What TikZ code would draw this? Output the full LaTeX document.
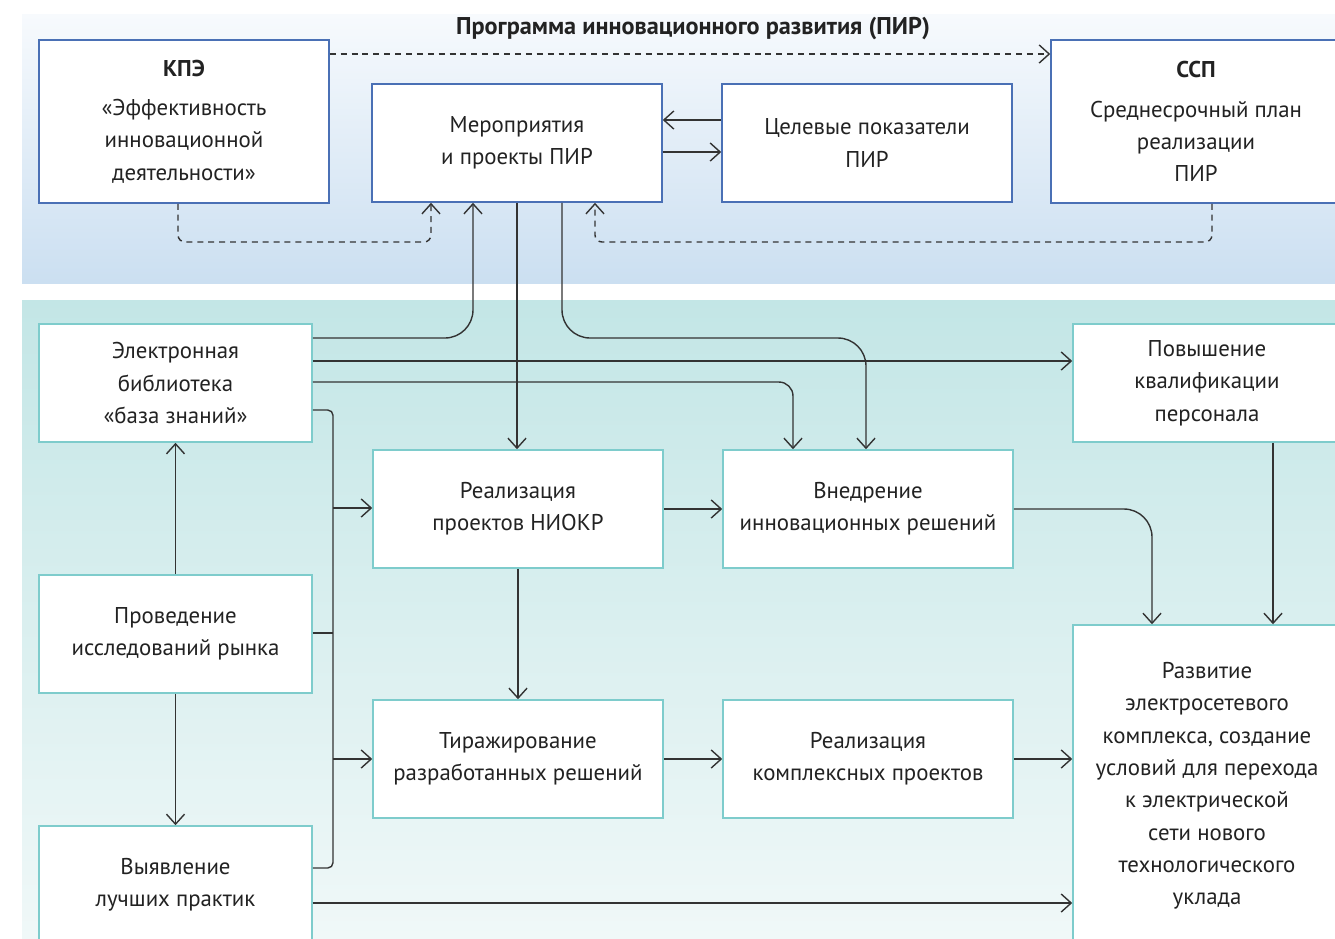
\documentclass[tikz,border=0pt]{standalone}
\usepackage{fontspec}
\setmainfont{PT Sans}
\usetikzlibrary{arrows.meta}

\definecolor{pirblue}{HTML}{4A70B5}
\definecolor{pirteal}{HTML}{7ECCCC}
\definecolor{bandtop}{HTML}{F7FAFD}
\definecolor{bandbot}{HTML}{CBDFF1}
\definecolor{tealtop}{HTML}{C3E6E6}
\definecolor{tealbot}{HTML}{F0F8F8}
\definecolor{ink}{HTML}{222222}
\definecolor{wire}{HTML}{333333}

\begin{document}
\begin{tikzpicture}[x=0.02cm, y=-0.02cm, >={Straight Barb[length=2mm,width=3.6mm]},
    font=\fontsize{13}{18.4}\selectfont, text=ink,
    topbox/.style={draw=pirblue, line width=0.9pt, fill=white, align=center,
        minimum width=5.8cm, minimum height=2.36cm, inner sep=0pt},
    lowbox/.style={draw=pirteal, line width=0.9pt, fill=white, align=center,
        minimum width=5.8cm, minimum height=2.36cm, inner sep=0pt},
    link/.style={draw=wire, line width=0.8pt},
    dlink/.style={link, dash pattern=on 3.4pt off 2.8pt}]
    \clip (0,0) rectangle (1335,938);
    \fill[white] (0,0) rectangle (1335,938);

    % the two bands
    \shade[top color=bandtop, bottom color=bandbot] (22,14) rectangle (1335,283);
    \shade[top color=tealtop, bottom color=tealbot] (22,300) rectangle (1335,938);

    \node[font=\fontsize{13.8}{18}\selectfont\bfseries] (title) at (693,29)
        {Программа инновационного развития (ПИР)};

    % upper part
    \node[topbox, minimum height=3.26cm] (kpe) at (184,121.5)
        {\textbf{КПЭ}\\[4pt] «Эффективность\\ инновационной\\ деятельности»};
    \node[topbox] (mer) at (517,143) {Мероприятия\\ и проекты ПИР};
    \node[topbox] (tsel) at (867,143) {Целевые показатели\\ ПИР};
    \node[topbox, minimum height=3.26cm] (ssp) at (1196,121.5)
        {\textbf{ССП}\\[4pt] Среднесрочный план\\ реализации\\ ПИР};

    % lower part
    \node[lowbox, minimum width=5.46cm] (elib) at (175.5,383)
        {Электронная\\ библиотека\\ «база знаний»};
    \node[lowbox] (niokr) at (518,509) {Реализация\\ проектов НИОКР};
    \node[lowbox] (vnedr) at (868,509) {Внедрение\\ инновационных решений};
    \node[lowbox, minimum width=5.36cm] (povysh) at (1207,383)
        {Повышение\\ квалификации\\ персонала};
    \node[lowbox, minimum width=5.46cm] (rynok) at (175.5,634)
        {Проведение\\ исследований рынка};
    \node[lowbox] (tirazh) at (518,759) {Тиражирование\\ разработанных решений};
    \node[lowbox] (kompl) at (868,759) {Реализация\\ комплексных проектов};
    \node[lowbox, minimum width=5.36cm, minimum height=6.44cm] (razv) at (1207,786)
        {Развитие\\ электросетевого\\ комплекса, создание\\ условий для перехода\\
         к электрической\\ сети нового\\ технологического\\ уклада};
    \node[lowbox, minimum width=5.46cm] (luch) at (175.5,885)
        {Выявление\\ лучших практик};

    % dashed links in the upper band
    \draw[dlink, ->] (kpe.east |- 0,54) -- (ssp.west |- 0,54);
    \draw[dlink, ->, rounded corners=4pt] (kpe.south -| 178,0) -- (178,242)
        -- (431,242) -- (mer.south -| 431,0);
    \draw[dlink, ->, rounded corners=4pt] (ssp.south -| 1212,0) -- (1212,242)
        -- (595,242) -- (mer.south -| 595,0);

    \draw[link, ->] (tsel.west |- 0,120) -- (mer.east |- 0,120);
    \draw[link, ->] (mer.east |- 0,152) -- (tsel.west |- 0,152);

    % links between the bands
    \draw[link, ->, rounded corners=16pt] (elib.east |- 0,338) -- (473,338)
        -- (mer.south -| 473,0);
    \draw[link, ->] (mer.south) -- (mer.south |- niokr.north);
    \draw[link, ->, rounded corners=16pt] (mer.south -| 562,0) -- (562,338)
        -- (866,338) -- (vnedr.north -| 866,0);
    \draw[link, ->] (elib.east |- 0,361) -- (povysh.west |- 0,361);
    \draw[link, ->, rounded corners=8pt] (elib.east |- 0,382) -- (793,382)
        -- (vnedr.north -| 793,0);

    % bus on the left
    \coordinate (busa) at (333,508);
    \coordinate (busb) at (333,759);
    \draw[link, rounded corners=3pt] (elib.east |- 0,410) -- (333,410) -- (333,868)
        -- (luch.east |- 0,868);
    \draw[link] (rynok.east |- 0,633) -- (333,633);
    \draw[link, ->] (busa) -- (niokr.west |- busa);
    \draw[link, ->] (busb) -- (tirazh.west |- busb);

    \draw[link, ->] (rynok.north) -- (elib.south);
    \draw[link, ->] (rynok.south) -- (luch.north);

    \draw[link, ->] (niokr.east) -- (vnedr.west);
    \draw[link, ->] (niokr.south) -- (tirazh.north);
    \draw[link, ->] (tirazh.east) -- (kompl.west);
    \draw[link, ->] (kompl.east) -- (razv.west |- kompl.east);
    \draw[link, ->, rounded corners=16pt] (vnedr.east) -- (1152,509)
        -- (razv.north -| 1152,0);
    \draw[link, ->] (povysh.south -| 1273,0) -- (razv.north -| 1273,0);
    \draw[link, ->] (luch.east |- 0,903) -- (razv.west |- 0,903);
\end{tikzpicture}
\end{document}
